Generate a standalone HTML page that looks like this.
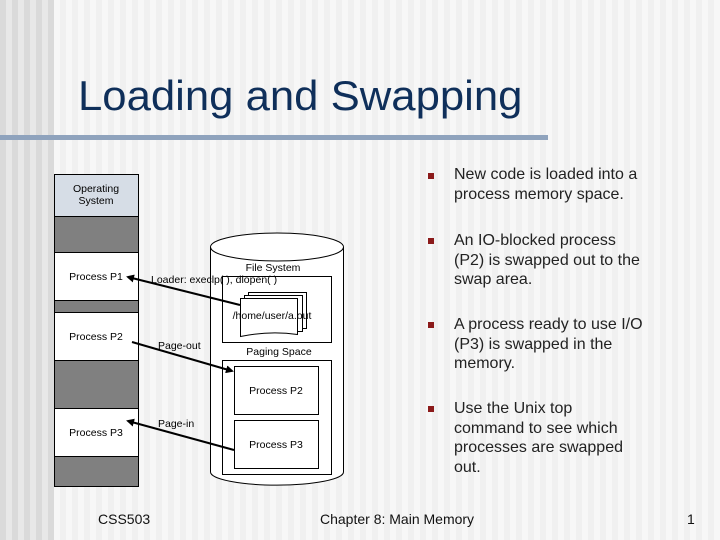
<!DOCTYPE html>
<html><head><meta charset="utf-8"><style>
html,body{margin:0;padding:0}
body{width:720px;height:540px;position:relative;overflow:hidden;font-family:"Liberation Sans",sans-serif;
background:
repeating-linear-gradient(to right,#dadada 0 6px,#e8e8e8 6px 12px) 0 0/54px 100% no-repeat,
repeating-linear-gradient(to right,#f0f0f0 0 6px,#f7f7f7 6px 12px);}
.t{position:absolute;white-space:nowrap}
.title{left:78px;top:75px;font-size:42px;line-height:42px;color:#0f2f5a;transform:scaleX(1.04);transform-origin:0 0}
.bar{position:absolute;left:0;top:135px;width:548px;height:5px;background:#8fa3bd}
.b{position:absolute;left:428px;width:6px;height:6px;background:#8b1a1a}
.bt{position:absolute;left:454px;font-size:16px;line-height:19.5px;color:#222;white-space:nowrap}
.f{position:absolute;top:511px;font-size:14px;color:#111}
</style></head><body>
<div class="t title">Loading and Swapping</div>
<div class="bar"></div>

<svg width="720" height="540" style="position:absolute;left:0;top:0" font-family="Liberation Sans, sans-serif" font-size="10.5">
<defs><marker id="a" markerWidth="8" markerHeight="8" refX="6" refY="4" orient="auto" markerUnits="userSpaceOnUse"><path d="M0,0 L8,4 L0,8 z" fill="#000"/></marker></defs>
<rect x="54.5" y="174.5" width="84" height="42" fill="#d6dde6" stroke="#000"/>
<rect x="54.5" y="216.5" width="84" height="36" fill="#808080" stroke="#000"/>
<rect x="54.5" y="252.5" width="84" height="48" fill="#fff" stroke="#000"/>
<rect x="54.5" y="300.5" width="84" height="12" fill="#808080" stroke="#000"/>
<rect x="54.5" y="312.5" width="84" height="48" fill="#fff" stroke="#000"/>
<rect x="54.5" y="360.5" width="84" height="48" fill="#808080" stroke="#000"/>
<rect x="54.5" y="408.5" width="84" height="48" fill="#fff" stroke="#000"/>
<rect x="54.5" y="456.5" width="84" height="30" fill="#808080" stroke="#000"/>
<text x="96" y="192" text-anchor="middle">Operating</text>
<text x="96" y="204" text-anchor="middle">System</text>
<text x="96" y="280" text-anchor="middle">Process P1</text>
<text x="96" y="340" text-anchor="middle">Process P2</text>
<text x="96" y="436" text-anchor="middle">Process P3</text>
<path d="M210.5,247 L210.5,472 A66,13 0 0 0 343.5,472 L343.5,247" fill="#fff" stroke="#000"/>
<ellipse cx="277" cy="247" rx="66.5" ry="14" fill="#fff" stroke="#000"/>
<text x="273" y="271" text-anchor="middle">File System</text>
<rect x="222.5" y="276.5" width="109" height="66" fill="#fff" stroke="#000"/>
<path d="M248.5,292.5 h58 v36 h-58 z" fill="#fff" stroke="#000"/>
<path d="M244.5,295.5 h58 v36 h-58 z" fill="#fff" stroke="#000"/>
<path d="M240.5,298.5 h57 v36 q-28,-4 -57,2 z" fill="#fff" stroke="#000"/>
<text x="272" y="319" text-anchor="middle">/home/user/a.out</text>
<text x="279" y="355" text-anchor="middle">Paging Space</text>
<rect x="222.5" y="360.5" width="109" height="114" fill="#fff" stroke="#000"/>
<rect x="234.5" y="366.5" width="84" height="48" fill="#fff" stroke="#000"/>
<rect x="234.5" y="420.5" width="84" height="48" fill="#fff" stroke="#000"/>
<text x="276" y="394" text-anchor="middle">Process P2</text>
<text x="276" y="448" text-anchor="middle">Process P3</text>
<line x1="240" y1="305" x2="128" y2="277" stroke="#000" stroke-width="2" marker-end="url(#a)"/>
<line x1="132" y1="342" x2="232" y2="371" stroke="#000" stroke-width="2" marker-end="url(#a)"/>
<line x1="234" y1="450" x2="128" y2="421" stroke="#000" stroke-width="2" marker-end="url(#a)"/>
<text x="151" y="283">Loader: execlp( ), dlopen( )</text>
<text x="158" y="349">Page-out</text>
<text x="158" y="427">Page-in</text>
</svg>

<div class="b" style="top:173px"></div>
<div class="bt" style="top:165px">New code is loaded into a<br>process memory space.</div>
<div class="b" style="top:238px"></div>
<div class="bt" style="top:231px">An IO-blocked process<br>(P2) is swapped out to the<br>swap area.</div>
<div class="b" style="top:322px"></div>
<div class="bt" style="top:315px">A process ready to use I/O<br>(P3) is swapped in the<br>memory.</div>
<div class="b" style="top:406px"></div>
<div class="bt" style="top:399px">Use the Unix top<br>command to see which<br>processes are swapped<br>out.</div>

<div class="f" style="left:98px">CSS503</div>
<div class="f" style="left:320px">Chapter 8: Main Memory</div>
<div class="f" style="left:687px">1</div>
</body></html>
